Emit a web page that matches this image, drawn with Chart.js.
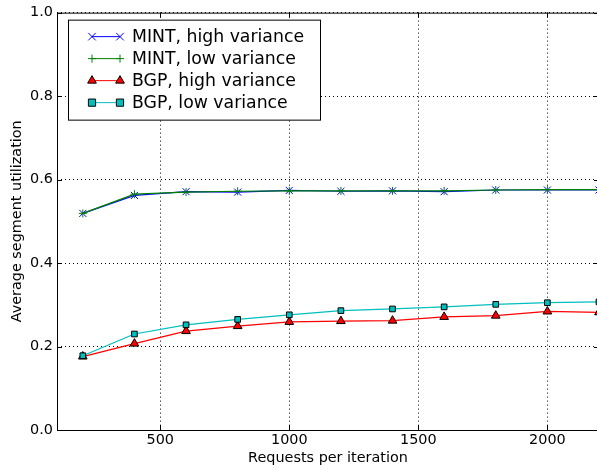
<!DOCTYPE html>
<html>
<head>
<meta charset="utf-8">
<script src="https://cdn.jsdelivr.net/npm/chart.js@4"></script>
<style>
  html, body { margin: 0; padding: 0; overflow: hidden; background: #fff; }
</style>
</head>
<body>
<canvas id="util-chart" width="605" height="470"></canvas>
<script>
// requests per iteration
var requests = [200, 400, 600, 800, 1000, 1200, 1400, 1600, 1800, 2000, 2200];
var mintHigh = [0.519, 0.562, 0.571, 0.570, 0.574, 0.572, 0.573, 0.571, 0.575, 0.575, 0.575];
var mintLow  = [0.519, 0.565, 0.570, 0.572, 0.573, 0.573, 0.573, 0.573, 0.575, 0.576, 0.576];
var bgpHigh  = [0.176, 0.207, 0.237, 0.249, 0.259, 0.261, 0.262, 0.271, 0.274, 0.284, 0.282];
var bgpLow   = [0.178, 0.230, 0.252, 0.265, 0.276, 0.286, 0.290, 0.295, 0.301, 0.305, 0.307];
var xTicks = [500, 1000, 1500, 2000];
var yTicks = [0, 0.2, 0.4, 0.6, 0.8, 1.0];

var font = 'DejaVu Sans';

function pts(ys) {
  return requests.map(function (x, i) { return { x: x, y: ys[i] }; });
}

function marker(ctx, ds, px, y) {
  ctx.fillStyle = ds.pointBackgroundColor;
  ctx.strokeStyle = ds.pointBorderColor;
  ctx.lineWidth = ds.pointBorderWidth;
  ctx.beginPath();
  var r = ds.pointRadius;
  if (ds.pointStyle === 'triangle') {
    ctx.moveTo(px, y - r);
    ctx.lineTo(px + r * 0.87, y + r * 0.5);
    ctx.lineTo(px - r * 0.87, y + r * 0.5);
    ctx.closePath();
    ctx.fill(); ctx.stroke();
  } else if (ds.pointStyle === 'rect') {
    var s = r * 0.9;
    ctx.rect(px - s, y - s, 2 * s, 2 * s);
    ctx.fill(); ctx.stroke();
  } else if (ds.pointStyle === 'crossRot') {
    var c = r * 0.75;
    ctx.moveTo(px - c, y - c); ctx.lineTo(px + c, y + c);
    ctx.moveTo(px - c, y + c); ctx.lineTo(px + c, y - c);
    ctx.stroke();
  } else {
    ctx.moveTo(px - r, y); ctx.lineTo(px + r, y);
    ctx.moveTo(px, y - r); ctx.lineTo(px, y + r);
    ctx.stroke();
  }
}

// legend like matplotlib: line with a marker at each end
var mplLegend = {
  id: 'mplLegend',
  afterDraw: function (chart) {
    var ctx = chart.ctx;
    var a = chart.chartArea;
    var x0 = a.left + 11, y0 = a.top + 7, w = 252, h = 100;
    ctx.save();
    ctx.fillStyle = '#fff';
    ctx.strokeStyle = '#000';
    ctx.lineWidth = 1;
    ctx.fillRect(x0, y0, w, h);
    ctx.strokeRect(x0 + 0.5, y0 + 0.5, w, h);
    chart.data.datasets.forEach(function (ds, i) {
      var y = y0 + 17 + i * 22;
      var lx1 = x0 + 24, lx2 = x0 + 52;
      ctx.strokeStyle = ds.borderColor;
      ctx.lineWidth = 1;
      ctx.beginPath();
      ctx.moveTo(lx1, y);
      ctx.lineTo(lx2, y);
      ctx.stroke();
      marker(ctx, ds, lx1, y);
      marker(ctx, ds, lx2, y);
      ctx.fillStyle = '#000';
      ctx.font = '17.3px "' + font + '"';
      ctx.textBaseline = 'middle';
      ctx.fillText(ds.label, x0 + 64, y + 1);
    });
    ctx.restore();
  }
};

// solid frame plus inward tick marks on all four sides
var frame = {
  id: 'frame',
  beforeDatasetsDraw: function (chart) {
    var c = chart.ctx, a = chart.chartArea;
    var sx = chart.scales.x, sy = chart.scales.y;
    c.save();
    c.strokeStyle = '#000';
    c.lineWidth = 1;
    c.setLineDash([]);
    c.beginPath();
    xTicks.forEach(function (v) {
      var px = Math.round(sx.getPixelForValue(v)) + 0.5;
      c.moveTo(px, a.bottom); c.lineTo(px, a.bottom - 5);
      c.moveTo(px, a.top); c.lineTo(px, a.top + 5);
    });
    yTicks.forEach(function (v) {
      var py = Math.round(sy.getPixelForValue(v)) + 0.5;
      c.moveTo(a.left, py); c.lineTo(a.left + 5, py);
      c.moveTo(a.right, py); c.lineTo(a.right - 5, py);
    });
    c.stroke();
    c.strokeRect(a.left + 0.5, a.top + 0.5, a.right - a.left, a.bottom - a.top);
    c.restore();
  }
};

var chart = new Chart(document.getElementById('util-chart'), {
  type: 'line',
  data: {
    datasets: [{
      label: 'MINT, high variance',
      data: pts(mintHigh),
      borderColor: '#0000ff',
      pointStyle: 'crossRot',
      pointRadius: 5,
      pointBorderColor: '#0000ff',
      pointBackgroundColor: '#0000ff',
      pointBorderWidth: 1,
      order: 4
    }, {
      label: 'MINT, low variance',
      data: pts(mintLow),
      borderColor: '#008000',
      pointStyle: 'cross',
      pointRadius: 4,
      pointBorderColor: '#008000',
      pointBackgroundColor: '#008000',
      pointBorderWidth: 1,
      order: 3
    }, {
      label: 'BGP, high variance',
      data: pts(bgpHigh),
      borderColor: '#ff0000',
      pointStyle: 'triangle',
      pointRadius: 5,
      pointBorderColor: '#000',
      pointBackgroundColor: '#ff0000',
      pointBorderWidth: 1,
      order: 2
    }, {
      label: 'BGP, low variance',
      data: pts(bgpLow),
      borderColor: '#00bfbf',
      pointStyle: 'rect',
      pointRadius: 4,
      pointBorderColor: '#000',
      pointBackgroundColor: '#00bfbf',
      pointBorderWidth: 1,
      order: 1
    }]
  },
  options: {
    responsive: false,
    animation: false,
    clip: false,
    devicePixelRatio: 1,
    elements: { line: { borderWidth: 1.2, tension: 0 } },
    layout: { padding: { top: 7.4, right: 0, left: 0, bottom: 0 } },
    plugins: { legend: { display: false }, tooltip: { enabled: false } },
    scales: {
      x: {
        type: 'linear',
        min: 100,
        max: 2200,
        afterBuildTicks: function (s) { s.ticks = xTicks.map(function (v) { return { value: v }; }); },
        afterFit: function (s) { s.height = 40; },
        ticks: { color: '#000', font: { family: font, size: 14.4 }, padding: 2, maxRotation: 0,
                 callback: function (v) { return String(v); } },
        grid: { color: '#000', lineWidth: 1, drawTicks: false },
        border: { display: false, dash: [1, 3] },
        title: { display: true, text: 'Requests per iteration', color: '#000', font: { family: font, size: 14.4 }, padding: { top: 0, bottom: 3 } }
      },
      y: {
        min: 0,
        max: 1,
        afterBuildTicks: function (s) { s.ticks = yTicks.map(function (v) { return { value: v }; }); },
        afterFit: function (s) { s.width = 57; },
        ticks: { color: '#000', font: { family: font, size: 14.4 }, padding: 4,
                 callback: function (v) { return v.toFixed(1); } },
        grid: { color: '#000', lineWidth: 1, drawTicks: false },
        border: { display: false, dash: [1, 3] },
        title: { display: true, text: 'Average segment utilization', color: '#000', font: { family: font, size: 14.4 }, padding: { top: 9, bottom: 0 } }
      }
    }
  },
  plugins: [mplLegend, frame]
});
</script>
</body>
</html>
